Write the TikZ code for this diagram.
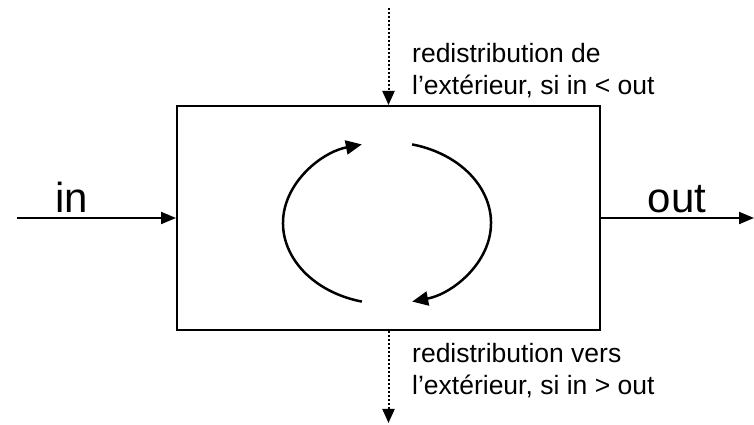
\documentclass[tikz,border=0pt]{standalone}
\usepackage{fontspec}
\setmainfont{Liberation Sans}
\usetikzlibrary{arrows.meta}
\begin{document}
\begin{tikzpicture}[x=1pt,y=1pt,
  boxst/.style={draw,line width=2pt,minimum width=423pt,minimum height=224pt,inner sep=0pt},
  flow/.style={line width=2pt,-{Triangle[length=15pt,width=12pt]}},
  dotflow/.style={line width=2pt,dash pattern=on 2pt off 2pt,-{Triangle[length=14pt,width=12pt]}},
  cyc/.style={line width=2.5pt,-{Triangle[length=16pt,width=14pt]}},
  big/.style={font=\fontsize{42}{48}\selectfont,inner sep=0pt},
  small/.style={font=\fontsize{26.5}{32}\selectfont,inner sep=0pt,align=left}]
\useasboundingbox (0,0) rectangle (754,425);
\node[boxst] (b) at (388.5,207) {};
\coordinate (inS) at (17,207);
\coordinate (outE) at (754,207);
\coordinate (topS) at (388.5,417);
\coordinate (botE) at (388.5,2);
\draw[flow] (inS) -- (b.west);
\draw[flow] (b.east) -- (outE);
\draw[dotflow] (topS) -- (b.north);
\draw[dotflow] (b.south) -- (botE);
\node[big,anchor=base] (tin) at (72,212) {in};
\node[big,anchor=base] (tout) at (677,212) {out};
\node[small,anchor=base west] (ttop) at (412,330) {redistribution de\\l’extérieur, si in < out};
\node[small,anchor=base west] (tbot) at (412,30) {redistribution vers\\l’extérieur, si in > out};
\coordinate (c) at (387,202);
\draw[cyc] ([shift={(256:104pt and 81pt)}]c) arc[start angle=256,end angle=104,x radius=104pt,y radius=81pt];
\draw[cyc] ([shift={(76:104pt and 81pt)}]c) arc[start angle=76,end angle=-76,x radius=104pt,y radius=81pt];
\end{tikzpicture}
\end{document}
